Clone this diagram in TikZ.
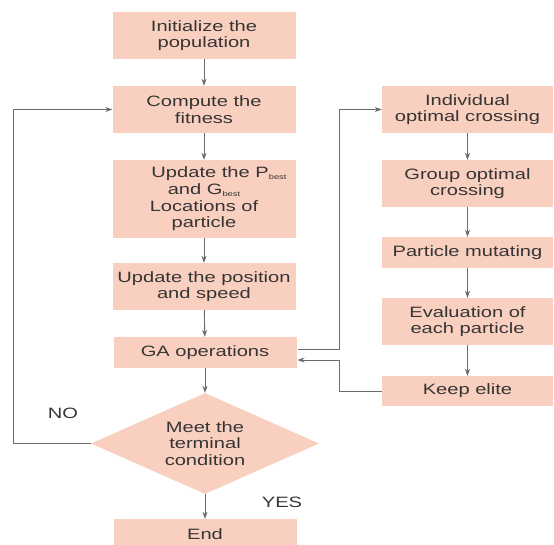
\documentclass[tikz,border=0pt]{standalone}
\usepackage{fontspec}
\setmainfont[FakeStretch=1.34]{Liberation Sans}
\usetikzlibrary{shapes.geometric,arrows.meta}
\definecolor{boxfill}{HTML}{F9CFBF}
\definecolor{txt}{HTML}{353535}
\definecolor{ln}{HTML}{6A6A6A}
\newcommand{\sbest}{\raisebox{-0.25ex}{\fontsize{7}{7}\selectfont best}}
\begin{document}
\begin{tikzpicture}[x=1pt,y=-1pt,
  box/.style={draw=none,fill=boxfill,text=txt,align=center,inner sep=0pt,
    font=\fontsize{15}{16.7}\selectfont},
  dia/.style={diamond,aspect=2.26,fill=boxfill,text=txt,align=center,inner sep=0pt,
    font=\fontsize{15}{16.7}\selectfont},
  lbl/.style={text=txt,font=\fontsize{15}{16.7}\selectfont},
  conn/.style={draw=ln,line width=0.9pt,-{Stealth[length=7pt,width=5pt,fill=txt]}},
  wire/.style={draw=ln,line width=0.9pt}]
\useasboundingbox (0,0) rectangle (554,544);
% left column
\node[box,minimum width=183pt,minimum height=47pt] (init) at (204,35.5) {Initialize the\\population};
\node[box,minimum width=183pt,minimum height=47pt] (comp) at (204,109.5) {Compute the\\fitness};
\node[box,minimum width=183pt,minimum height=78pt] (upd) at (204,199) {\hspace*{2em}Update the P\sbest\\and G\sbest\\Locations of\\particle};
\node[box,minimum width=183pt,minimum height=47pt] (pos) at (204,286.5) {Update the position\\and speed};
\node[box,minimum width=183pt,minimum height=31pt] (ga) at (205,352.5) {GA operations};
\node[dia,minimum width=228pt,minimum height=101pt] (cond) at (205,443.5) {Meet the\\terminal\\condition};
\node[box,minimum width=183pt,minimum height=31pt] (end) at (205,534.5) {End};
% right column
\node[box,minimum width=171pt,minimum height=47pt] (ind) at (467.5,109.5) {Individual\\optimal crossing};
\node[box,minimum width=171pt,minimum height=47pt] (grp) at (467.5,183.5) {Group optimal\\crossing};
\node[box,minimum width=171pt,minimum height=31pt] (mut) at (467.5,252.5) {Particle mutating};
\node[box,minimum width=171pt,minimum height=47pt] (eva) at (467.5,321.5) {Evaluation of\\each particle};
\node[box,minimum width=171pt,minimum height=30pt] (keep) at (467.5,391) {Keep elite};
% labels
\node[lbl] (no) at (63,413) {NO};
\node[lbl] (yes) at (282,502) {YES};
% connectors
\draw[conn] (init) -- (comp);
\draw[conn] (comp) -- (upd);
\draw[conn] (upd) -- (pos);
\draw[conn] (pos) -- (ga);
\draw[conn] (ga) -- (cond);
\draw[conn] (cond) -- (end);
\coordinate (lx) at (13,443.5);
\draw[conn] (cond.west) -- (lx) |- (comp.west);
\coordinate (ga1) at (297.5,349);
\coordinate (ga2) at (297.5,360);
\coordinate (rx) at (339,349);
\draw[conn] (ga1) -- (rx) |- (ind.west);
\coordinate (kx) at (339,391);
\draw[conn] (keep.west) -- (kx) |- (ga2);
\draw[conn] (ind) -- (grp);
\draw[conn] (grp) -- (mut);
\draw[conn] (mut) -- (eva);
\draw[conn] (eva) -- (keep);
\end{tikzpicture}
\end{document}
